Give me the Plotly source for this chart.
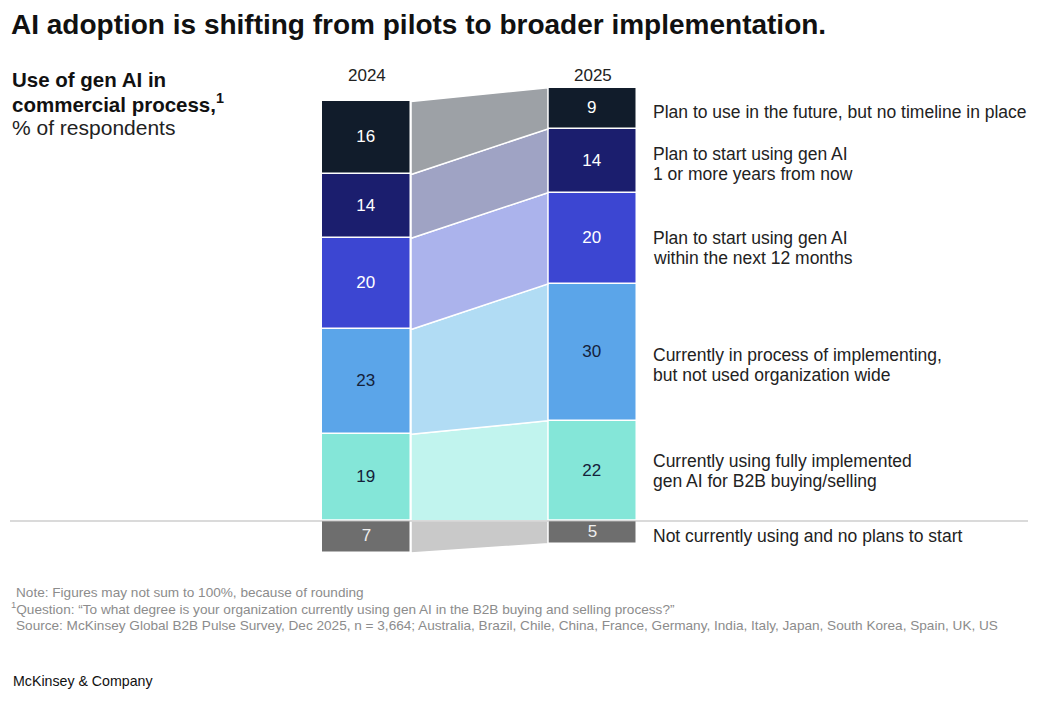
import plotly.graph_objects as go

# data, bottom to top of the positive stack
years = ["2024", "2025"]
categories = [
    "Currently using fully implemented<br>gen AI for B2B buying/selling",
    "Currently in process of implementing,<br>but not used organization wide",
    "Plan to start using gen AI<br>within the next 12 months",
    "Plan to start using gen AI<br>1 or more years from now",
    "Plan to use in the future, but no timeline in place",
]
values_2024 = [19, 23, 20, 14, 16]
values_2025 = [22, 30, 20, 14, 9]
not_using_label = "Not currently using and no plans to start"
not_using = [7, 5]

bar_colors = ["#84e6d8", "#5ba5e9", "#3c46d2", "#1b1e6e", "#111c2b"]
link_colors = ["#c1f4ee", "#b1dcf4", "#abb3ec", "#9fa3c4", "#9da1a6"]
text_colors = ["#14213a", "#14213a", "#ffffff", "#ffffff", "#ffffff"]
label_shift = [0, -13, -10, -3, -4]  # px nudges for right-hand labels

# page is offset by the 8px body margin
W, H = 1046, 692
OFF = 8
FONT = "Liberation Sans"
BAR_W = 0.394
x_pos = [0, 1]
UNIT = 4.56       # px per percentage point
X0, XSTEP = 366.5, 226
BASE = 521


def px(x):
    return (x - OFF) / W


def py(y):
    return 1 - (y - OFF) / H


def note(text, x, y, size, color, bold=False, anchor="left"):
    if bold:
        text = "<b>" + text + "</b>"
    fig.add_annotation(x=px(x), y=py(y), xref="paper", yref="paper", text=text,
                       showarrow=False, xanchor=anchor, yanchor="middle",
                       font=dict(family=FONT, size=size, color=color))


fig = go.Figure()

# connector bands between the two bars
cum24, cum25 = 0, 0
mids25 = []
xl, xr = BAR_W / 2, 1 - BAR_W / 2
for i, cat in enumerate(categories):
    b0, t0 = cum24, cum24 + values_2024[i]
    b1, t1 = cum25, cum25 + values_2025[i]
    cum24, cum25 = t0, t1
    mids25.append((b1 + t1) / 2)
    fig.add_trace(go.Scatter(
        x=[xl, xr, xr, xl, xl], y=[b0, b1, t1, t0, b0],
        fill="toself", fillcolor=link_colors[i], mode="lines",
        line=dict(color="white", width=1.5), hoverinfo="skip", showlegend=False))

fig.add_trace(go.Scatter(
    x=[xl, xr, xr, xl, xl], y=[-not_using[0], -not_using[1], 0, 0, -not_using[0]],
    fill="toself", fillcolor="#c9c9c9", mode="lines",
    line=dict(color="white", width=1.5), hoverinfo="skip", showlegend=False))

# stacked bars
for i, cat in enumerate(categories):
    vals = [values_2024[i], values_2025[i]]
    fig.add_trace(go.Bar(
        x=x_pos, y=vals, width=BAR_W, text=[str(v) for v in vals],
        textposition="inside", insidetextanchor="middle", textangle=0,
        textfont=dict(family=FONT, size=17, color=text_colors[i]),
        marker=dict(color=bar_colors[i], line=dict(color="white", width=1.5)),
        showlegend=False, hoverinfo="skip"))

# "not using" sits below the baseline; its numbers go on as a text trace
# because the bar is too thin for plotly's inside text at full size
fig.add_trace(go.Bar(
    x=x_pos, y=[-v for v in not_using], width=BAR_W,
    marker=dict(color="#6e6e6e", line=dict(color="white", width=1.5)),
    showlegend=False, hoverinfo="skip"))
fig.add_trace(go.Scatter(
    x=x_pos, y=[-v / 2 for v in not_using], mode="text",
    text=[str(v) for v in not_using],
    textfont=dict(family=FONT, size=17, color="#eeeeee"),
    showlegend=False, hoverinfo="skip"))

# right-hand labels, one annotation per line
for i, cat in enumerate(categories):
    lines = cat.split("<br>")
    for j, line in enumerate(lines):
        off = (j - (len(lines) - 1) / 2) * 20
        fig.add_annotation(x=px(651), xref="paper", y=mids25[i], yref="y", text=line,
                           showarrow=False, xanchor="left", yanchor="middle",
                           yshift=label_shift[i] - off,
                           font=dict(family=FONT, size=17.5, color="#222222"))
fig.add_annotation(x=px(651), xref="paper", y=-not_using[1] / 2, yref="y",
                   text=not_using_label, showarrow=False, xanchor="left",
                   yanchor="middle", yshift=-4,
                   font=dict(family=FONT, size=17.5, color="#222222"))

# year headers
for xp, yr in zip(x_pos, years):
    fig.add_annotation(x=xp, xref="x", y=py(75), yref="paper", text=yr, showarrow=False,
                       xanchor="center", yanchor="middle",
                       font=dict(family=FONT, size=17, color="#222222"))

# titles and notes
note("AI adoption is shifting from pilots to broader implementation.", 9, 25, 28, "#111111", bold=True)
note("Use of gen AI in", 10, 79, 20.5, "#111111", bold=True)
note("commercial process,<sup>1</sup>", 10, 103, 20.5, "#111111", bold=True)
note("% of respondents", 10, 127, 21, "#222222")

grey = "#8c8c8c"
note("Note: Figures may not sum to 100%, because of rounding", 14, 592, 13.6, grey)
note("<sup>1</sup>Question: “To what degree is your organization currently using gen AI "
     "in the B2B buying and selling process?”", 9, 608, 13.6, grey)
note("Source: McKinsey Global B2B Pulse Survey, Dec 2025, n = 3,664; Australia, Brazil, "
     "Chile, China, France, Germany, India, Italy, Japan, South Korea, Spain, UK, US", 14, 625, 13.6, grey)
note("McKinsey & Company", 11, 681, 14.2, "#111111")

# baseline
fig.add_shape(type="line", xref="paper", yref="y", x0=px(10), x1=px(1028), y0=0, y1=0,
              line=dict(color="#b5b5b5", width=1.2), layer="above")

fig.update_layout(
    width=W, height=H, margin=dict(l=0, r=0, t=0, b=0),
    barmode="relative", bargap=0,
    plot_bgcolor="white", paper_bgcolor="white",
    xaxis=dict(range=[(OFF - X0) / XSTEP, (OFF + W - X0) / XSTEP], visible=False, fixedrange=True),
    yaxis=dict(range=[-(OFF + H - BASE) / UNIT, (BASE - OFF) / UNIT], visible=False, fixedrange=True),
)

fig.write_html("out.html")
